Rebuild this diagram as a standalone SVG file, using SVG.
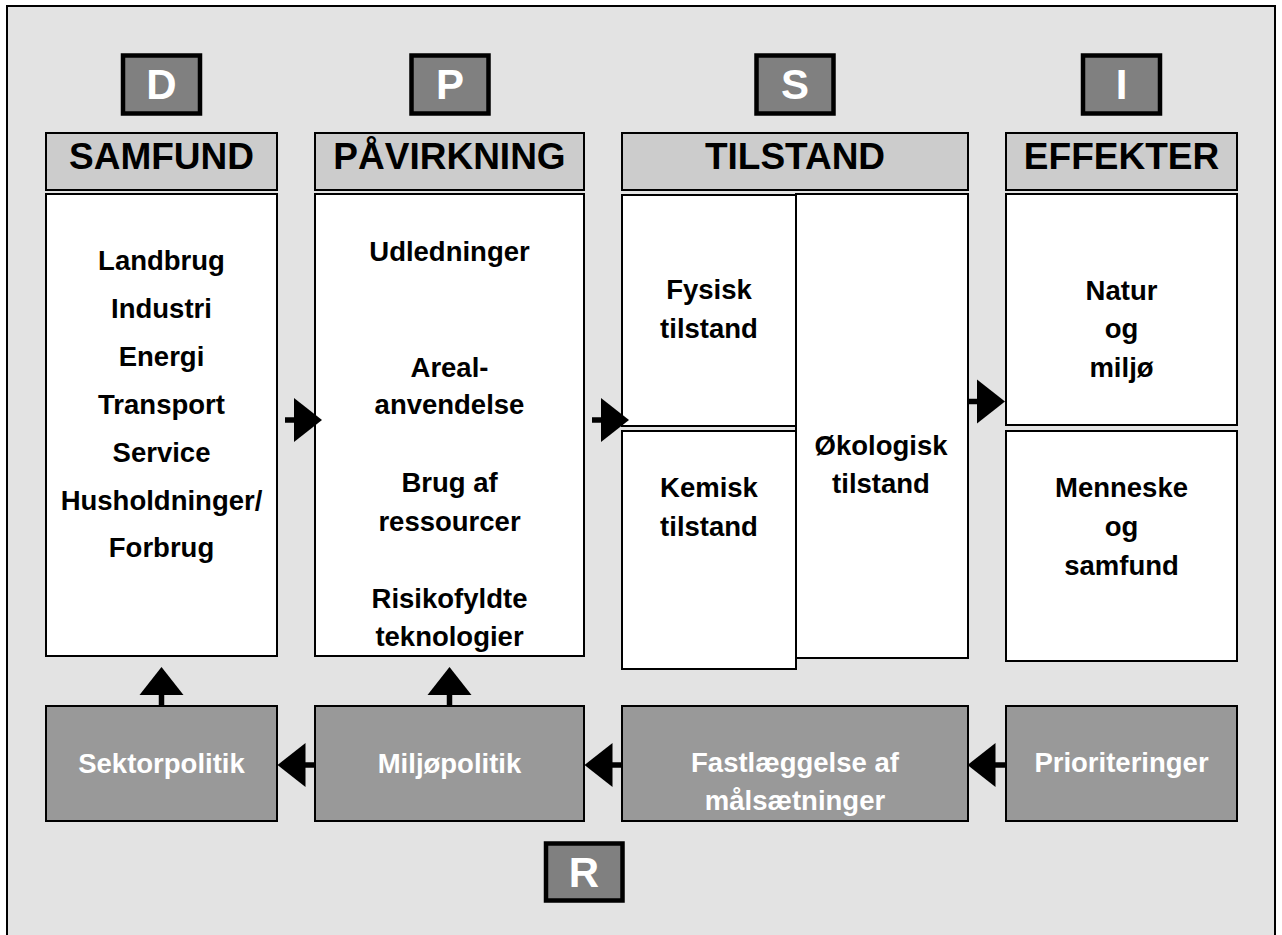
<svg xmlns="http://www.w3.org/2000/svg" width="1282" height="935" viewBox="0 0 1282 935">
<style>
text{font-family:"Liberation Sans",Arial,sans-serif;font-weight:bold;text-anchor:middle}
.hdr{fill:#cccccc;stroke:#000;stroke-width:2}
.hdr-t{font-size:37px;fill:#000}
.body{fill:#ffffff;stroke:#000;stroke-width:2}
.body-t{font-size:27.5px;fill:#000}
.pol{fill:#999999;stroke:#000;stroke-width:2}
.pol-t{font-size:27.5px;fill:#ffffff}
.let{fill:#808080;stroke:#000;stroke-width:4.5}
.let-t{font-size:42px;fill:#ffffff}
.stem{stroke:#000;stroke-width:5.5;fill:none}
.head{fill:#000}
</style>
<rect x="0" y="0" width="1282" height="935" fill="#ffffff"/>
<rect id="frame" x="7" y="6" width="1268" height="960" fill="#e3e3e3" stroke="#000" stroke-width="2"/>

<g id="letter-D"><rect class="let" x="123" y="55.5" width="77" height="58"/><text class="let-t" x="161.5" y="99">D</text></g>
<g id="letter-P"><rect class="let" x="411.5" y="55.5" width="77" height="58"/><text class="let-t" x="450" y="99">P</text></g>
<g id="letter-S"><rect class="let" x="756.5" y="55.5" width="77" height="58"/><text class="let-t" x="795" y="99">S</text></g>
<g id="letter-I"><rect class="let" x="1083" y="55.5" width="77" height="58"/><text class="let-t" x="1121.5" y="99">I</text></g>
<g id="letter-R"><rect class="let" x="546" y="843.5" width="76.5" height="57"/><text class="let-t" x="584" y="887">R</text></g>

<g id="samfund">
<rect class="hdr" x="46" y="133" width="231" height="57"/>
<text class="hdr-t" x="161.5" y="168.5">SAMFUND</text>
<rect class="body" x="46" y="194" width="231" height="462"/>
<text class="body-t" x="161.5" y="270">Landbrug</text>
<text class="body-t" x="161.5" y="318">Industri</text>
<text class="body-t" x="161.5" y="366">Energi</text>
<text class="body-t" x="161.5" y="414">Transport</text>
<text class="body-t" x="161.5" y="462">Service</text>
<text class="body-t" x="161.5" y="510">Husholdninger/</text>
<text class="body-t" x="161.5" y="557">Forbrug</text>
</g>

<g id="paavirkning">
<rect class="hdr" x="315" y="133" width="269" height="57"/>
<text class="hdr-t" x="449.5" y="168.5">PÅVIRKNING</text>
<rect class="body" x="315" y="194" width="269" height="462"/>
<text class="body-t" x="449.5" y="261">Udledninger</text>
<text class="body-t" x="449.5" y="377">Areal-</text>
<text class="body-t" x="449.5" y="414">anvendelse</text>
<text class="body-t" x="449.5" y="492">Brug af</text>
<text class="body-t" x="449.5" y="531">ressourcer</text>
<text class="body-t" x="449.5" y="608">Risikofyldte</text>
<text class="body-t" x="449.5" y="646">teknologier</text>
</g>

<g id="tilstand">
<rect class="hdr" x="622" y="133" width="346" height="57"/>
<text class="hdr-t" x="795" y="168.5">TILSTAND</text>
</g>
<g id="fysisk">
<rect class="body" x="622" y="195" width="174" height="231"/>
<text class="body-t" x="709" y="299">Fysisk</text>
<text class="body-t" x="709" y="338">tilstand</text>
</g>
<g id="kemisk">
<rect class="body" x="622" y="431" width="174" height="238"/>
<text class="body-t" x="709" y="497">Kemisk</text>
<text class="body-t" x="709" y="536">tilstand</text>
</g>
<g id="oekologisk">
<rect class="body" x="796" y="194" width="172" height="464"/>
<text class="body-t" x="881" y="455">Økologisk</text>
<text class="body-t" x="881" y="493">tilstand</text>
</g>

<g id="effekter">
<rect class="hdr" x="1006" y="133" width="231" height="57"/>
<text class="hdr-t" x="1121.5" y="168.5">EFFEKTER</text>
</g>
<g id="natur">
<rect class="body" x="1006" y="194" width="231" height="231"/>
<text class="body-t" x="1121.5" y="300">Natur</text>
<text class="body-t" x="1121.5" y="338">og</text>
<text class="body-t" x="1121.5" y="377">miljø</text>
</g>
<g id="menneske">
<rect class="body" x="1006" y="431" width="231" height="230"/>
<text class="body-t" x="1121.5" y="497">Menneske</text>
<text class="body-t" x="1121.5" y="536">og</text>
<text class="body-t" x="1121.5" y="575">samfund</text>
</g>

<g id="sektorpolitik">
<rect class="pol" x="46" y="706" width="231" height="115"/>
<text class="pol-t" x="161.5" y="773">Sektorpolitik</text>
</g>
<g id="miljoepolitik">
<rect class="pol" x="315" y="706" width="269" height="115"/>
<text class="pol-t" x="449.5" y="773">Miljøpolitik</text>
</g>
<g id="maalsaetninger">
<rect class="pol" x="622" y="706" width="346" height="115"/>
<text class="pol-t" x="795" y="772">Fastlæggelse af</text>
<text class="pol-t" x="795" y="810">målsætninger</text>
</g>
<g id="prioriteringer">
<rect class="pol" x="1006" y="706" width="231" height="115"/>
<text class="pol-t" x="1121.5" y="772">Prioriteringer</text>
</g>

<g id="connectors">
<line class="stem" x1="285" y1="420" x2="296" y2="420"/>
<polygon class="head" points="294,398 322,420 294,442"/>
<line class="stem" x1="592" y1="420" x2="604" y2="420"/>
<polygon class="head" points="601,398 629,420 601,442"/>
<line class="stem" x1="968" y1="401.5" x2="980" y2="401.5"/>
<polygon class="head" points="977,379.5 1005,401.5 977,423.5"/>
<line class="stem" x1="161.5" y1="693" x2="161.5" y2="706"/>
<polygon class="head" points="139.5,695 161.5,667 183.5,695"/>
<line class="stem" x1="449.5" y1="693" x2="449.5" y2="706"/>
<polygon class="head" points="427.5,695 449.5,667 471.5,695"/>
<line class="stem" x1="303" y1="765" x2="315" y2="765"/>
<polygon class="head" points="305.5,743 277.5,765 305.5,787"/>
<line class="stem" x1="610" y1="765" x2="622" y2="765"/>
<polygon class="head" points="612.5,743 584.5,765 612.5,787"/>
<line class="stem" x1="993" y1="765" x2="1006" y2="765"/>
<polygon class="head" points="995.5,743 967.5,765 995.5,787"/>
</g>
</svg>
